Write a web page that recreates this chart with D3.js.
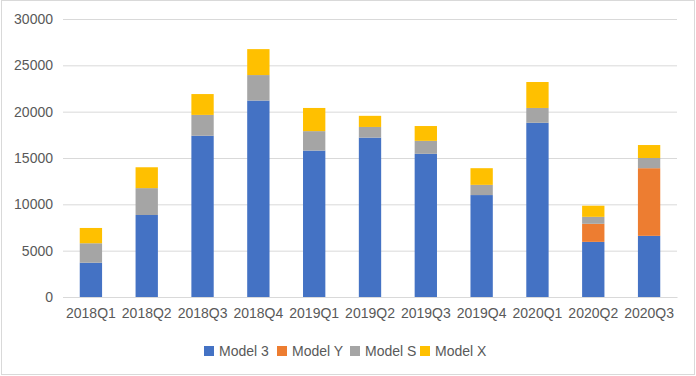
<!DOCTYPE html>
<html>
<head>
<meta charset="utf-8">
<script src="https://cdn.jsdelivr.net/npm/d3@7"></script>
<style>
html, body { margin: 0; padding: 0; background: #fff; }
svg { display: block; }
</style>
</head>
<body>
<svg id="chart" width="696" height="376"></svg>
<script>
const categories = ["2018Q1","2018Q2","2018Q3","2018Q4","2019Q1","2019Q2","2019Q3","2019Q4","2020Q1","2020Q2","2020Q3"];
const seriesNames = ["Model 3","Model Y","Model S","Model X"];
const model3 = [3700, 8850, 17400, 21200, 15800, 17200, 15450, 11000, 18800, 5950, 6600];
const modelY = [0, 0, 0, 0, 0, 0, 0, 0, 0, 1950, 7300];
const modelS = [2100, 2900, 2250, 2750, 2100, 1150, 1400, 1100, 1600, 750, 1100];
const modelX = [1650, 2250, 2250, 2800, 2500, 1200, 1600, 1800, 2800, 1200, 1400];
const yTicks = [0, 5000, 10000, 15000, 20000, 25000, 30000];
const colors = ["#4472C4", "#ED7D31", "#A5A5A5", "#FFC000"];

(function () {
const seriesValues = [model3, modelY, modelS, modelX];
const rows = categories.map((c, i) => {
  const r = { cat: c };
  seriesNames.forEach((s, j) => r[s] = seriesValues[j][i]);
  return r;
});
const stacked = d3.stack().keys(seriesNames)(rows);

const svg = d3.select("#chart");
const pLeft = 63, pRight = 677, pTop = 19, pBottom = 297;
const font = "'Liberation Sans', Arial, sans-serif";

svg.append("rect").attr("x", 1.5).attr("y", 0.5).attr("width", 693).attr("height", 374)
  .attr("fill", "#fff").attr("stroke", "#d9d9d9").attr("stroke-width", 1);

const x = d3.scaleBand().domain(categories).range([pLeft, pRight]).paddingInner(0.6).paddingOuter(0.3);
const y = d3.scaleLinear().domain([0, 30000]).range([pBottom, pTop]);

const yAxis = d3.axisLeft(y).tickValues(yTicks).tickSize(-(pRight - pLeft)).tickPadding(10).tickFormat(d3.format("d"));
const gy = svg.append("g").attr("transform", `translate(${pLeft},0)`).call(yAxis);
gy.select(".domain").remove();
gy.selectAll(".tick line").attr("stroke", "#d9d9d9").attr("stroke-width", 1);
gy.selectAll(".tick text").attr("fill", "#595959").style("font-family", font).style("font-size", "14px");

svg.append("g").selectAll("g").data(stacked).join("g")
  .attr("fill", (d, i) => colors[i])
  .selectAll("rect").data(d => d).join("rect")
  .attr("x", d => x(d.data.cat))
  .attr("width", x.bandwidth())
  .attr("y", d => y(d[1]))
  .attr("height", d => y(d[0]) - y(d[1]));

const xAxis = d3.axisBottom(x).tickSize(0).tickPadding(11);
const gx = svg.append("g").attr("transform", `translate(0,${pBottom})`).call(xAxis);
gx.select(".domain").attr("stroke", "#d9d9d9");
gx.selectAll(".tick text").attr("fill", "#595959").style("font-family", font).style("font-size", "14px");

const legendX = [204, 277, 350, 420];
const lg = svg.append("g");
seriesNames.forEach((s, i) => {
  const g = lg.append("g").attr("transform", `translate(${legendX[i]},346)`);
  g.append("rect").attr("width", 10).attr("height", 10).attr("fill", colors[i]);
  g.append("text").attr("x", 15).attr("y", 10).text(s)
    .attr("fill", "#595959").style("font-family", font).style("font-size", "14px");
});
})();
</script>
</body>
</html>
